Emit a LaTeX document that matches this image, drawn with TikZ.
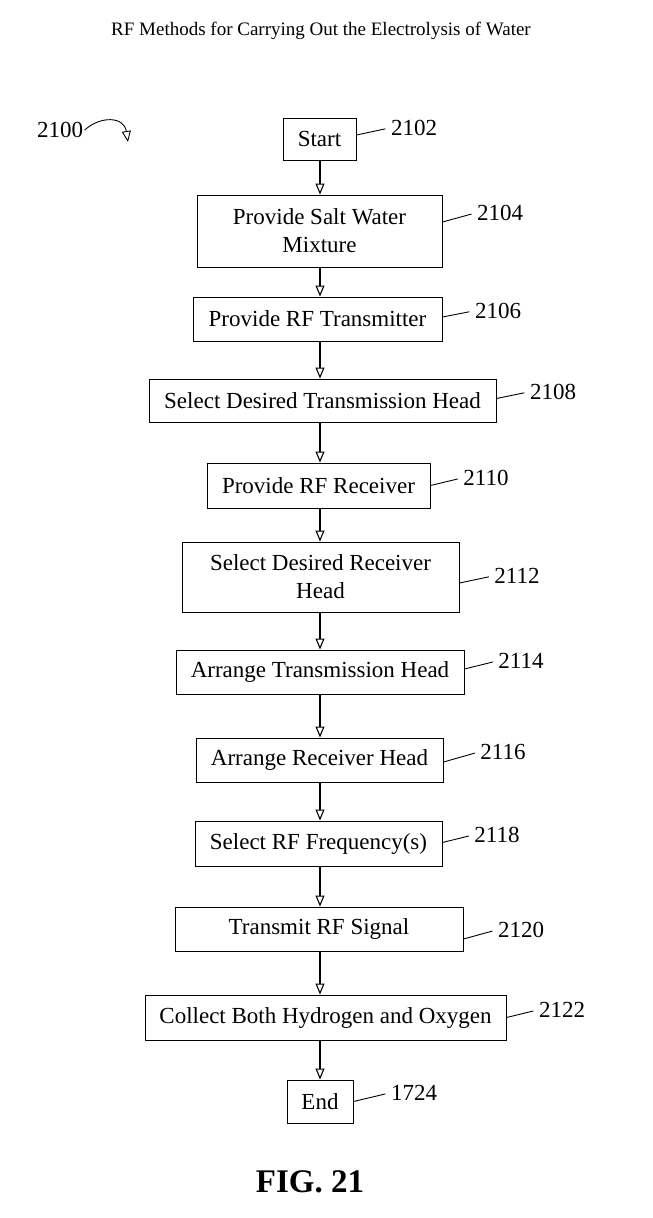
\documentclass[tikz,border=0pt]{standalone}
\usepackage{fontspec}
\setmainfont{Liberation Serif}
\usetikzlibrary{arrows.meta}
\tikzset{>={Triangle[open,width=9pt,length=11pt]},every node/.style={font=\fontsize{23}{28}\selectfont},box/.style={draw,line width=1pt,align=center,inner sep=0pt},num/.style={inner sep=1.5pt},flow/.style={line width=1.1pt,->},leader/.style={line width=0.9pt,shorten >=4pt}}

\begin{document}
\begin{tikzpicture}[x=1pt,y=-1pt]
\useasboundingbox (0,0) rectangle (653,1218);
\node[font=\fontsize{19}{22}\selectfont] (title) at (321,31){RF Methods for Carrying Out the Electrolysis of Water};
\coordinate (axis) at (320,0);
% boxes
\node[box,minimum width=73pt,minimum height=42pt] (start) at (319.5,139){Start};
\node[box,minimum width=245pt,minimum height=72pt] (salt) at (319.5,231){Provide Salt Water\\Mixture};
\node[box,minimum width=249pt,minimum height=44pt] (tx) at (317.5,319){Provide RF Transmitter};
\node[box,minimum width=347pt,minimum height=43pt] (txhead) at (322.5,400.5){Select Desired Transmission Head};
\node[box,minimum width=223pt,minimum height=45pt] (rx) at (318.5,485.5){Provide RF Receiver};
\node[box,minimum width=277pt,minimum height=70pt] (rxhead) at (320.5,577){Select Desired Receiver\\Head};
\node[box,minimum width=288pt,minimum height=44pt] (arrtx) at (320,672){Arrange Transmission Head};
\node[box,minimum width=247pt,minimum height=44pt] (arrrx) at (319.5,760){Arrange Receiver Head};
\node[box,minimum width=247pt,minimum height=45pt] (freq) at (318.5,843.5){Select RF Frequency(s)};
\node[box,minimum width=288pt,minimum height=44pt] (sig) at (319,929){Transmit RF Signal};
\node[box,minimum width=361pt,minimum height=45pt] (collect) at (325.5,1017.5){Collect Both Hydrogen and Oxygen};
\node[box,minimum width=66pt,minimum height=43pt] (end) at (320,1101.5){End};
% reference numerals
\node[num] (l2100) at (60,130){2100};\node[num] (l2102) at (414,128){2102};\node[num] (l2104) at (500,213){2104};
\node[num] (l2106) at (498,311){2106};\node[num] (l2108) at (553,392){2108};\node[num] (l2110) at (486,478){2110};
\node[num] (l2112) at (517,576){2112};\node[num] (l2114) at (521,661){2114};\node[num] (l2116) at (503,752){2116};
\node[num] (l2118) at (497,835){2118};\node[num] (l2120) at (521,930){2120};\node[num] (l2122) at (562,1010){2122};
\node[num] (l1724) at (414,1093){1724};
\node[font=\fontsize{33}{36}\selectfont\bfseries] (fig) at (310,1182){FIG. 21};
% connectors
\foreach \a/\b in {start/salt,salt/tx,tx/txhead,txhead/rx,rx/rxhead,rxhead/arrtx,arrtx/arrrx,arrrx/freq,freq/sig,sig/collect,collect/end}
  \draw[flow] (\a.south -| axis)--(\b.north -| axis);
\foreach \n/\l/\d in {start/2102/4,salt/2104/9,tx/2106/2,txhead/2108/2,rx/2110/0,rxhead/2112/-6,arrtx/2114/3,arrrx/2116/-2,freq/2118/1,sig/2120/-10,collect/2122/0,end/1724/0}
  \draw[leader] ([yshift=\d pt]\n.east)--(l\l.west);
\coordinate (c2100) at (128,142);
\draw[flow,line width=0.9pt] (l2100.east) .. controls (100,116) and (124,116) .. (c2100);
\end{tikzpicture}
\end{document}
